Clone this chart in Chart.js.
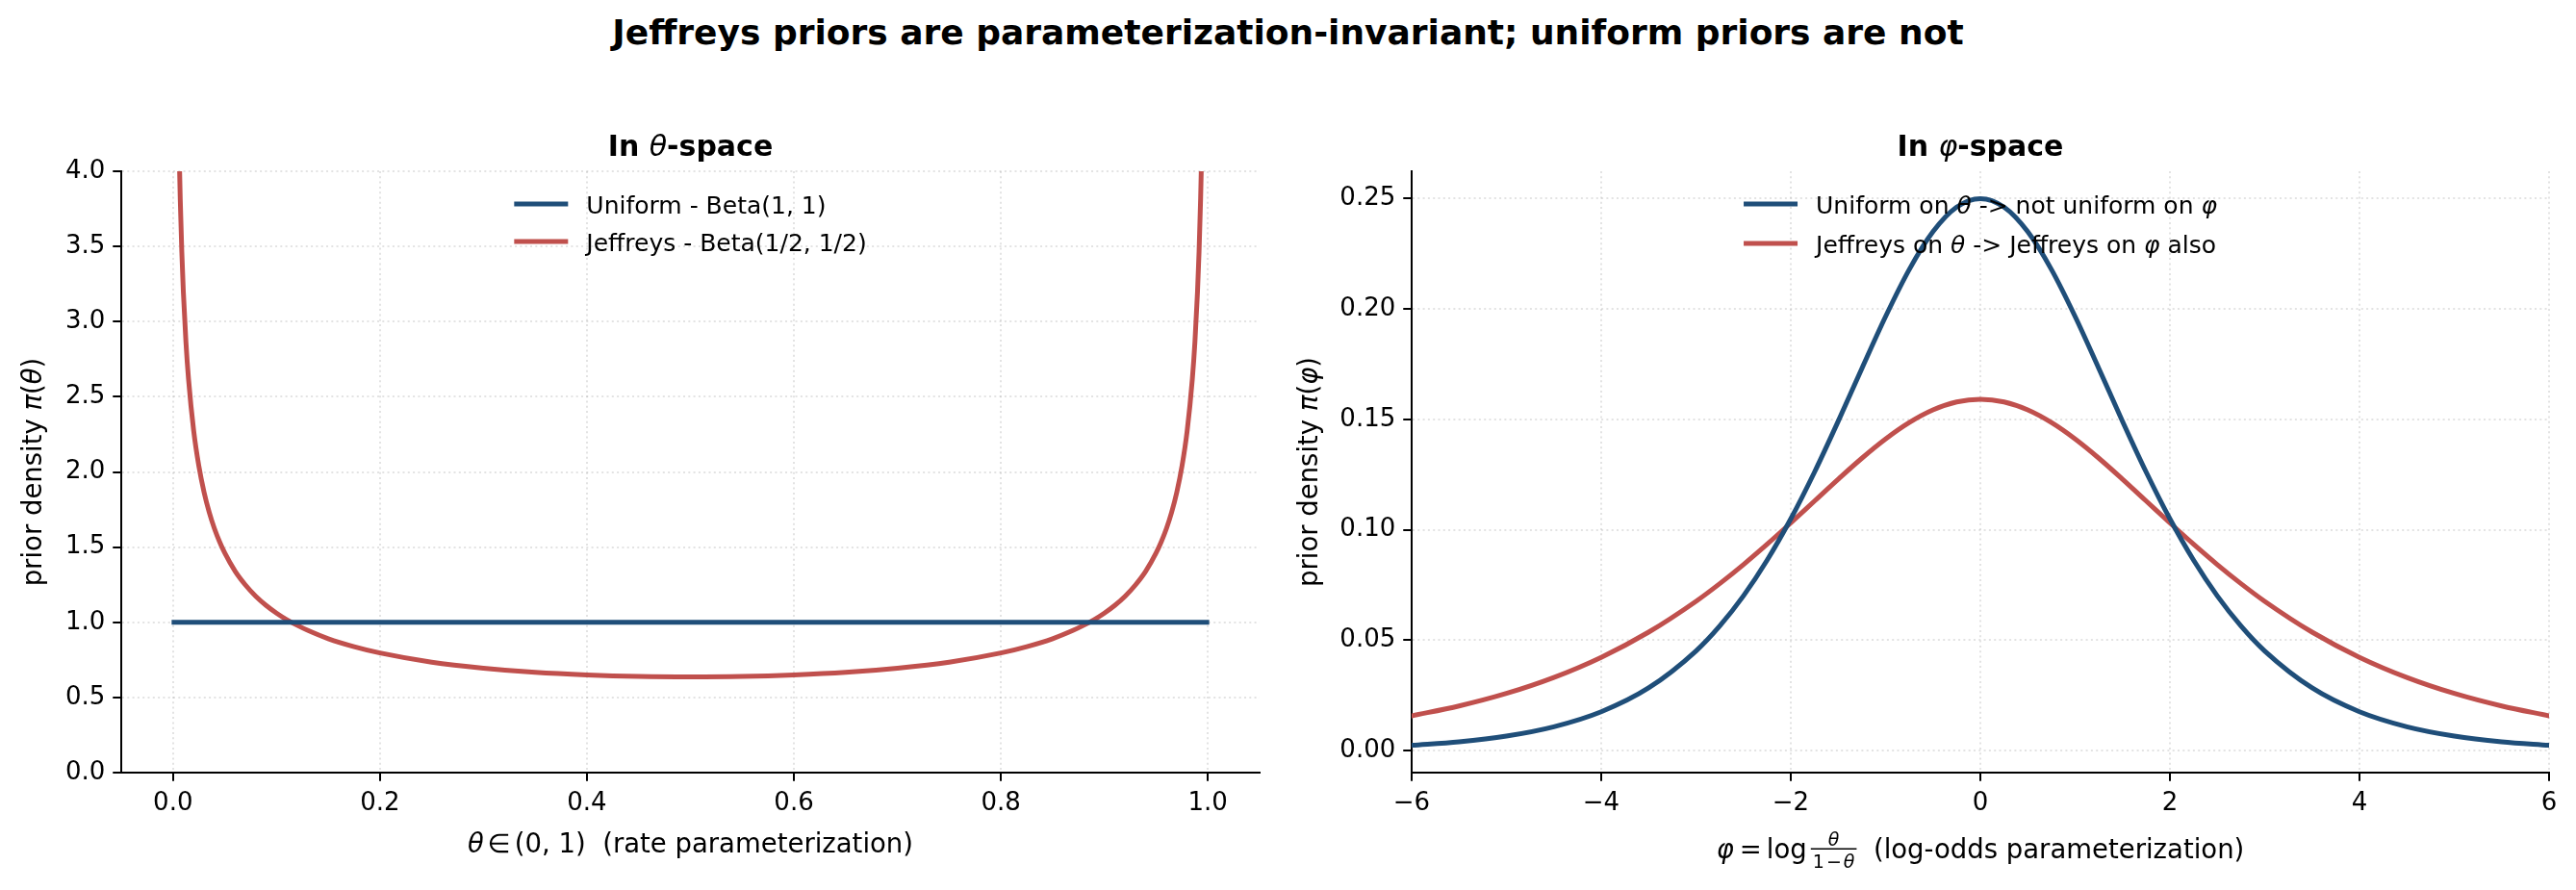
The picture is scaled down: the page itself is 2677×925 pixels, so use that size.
<!DOCTYPE html>
<html>
<head>
<meta charset="utf-8">
<script src="https://cdn.jsdelivr.net/npm/chart.js@4.4.1/dist/chart.umd.min.js"></script>
<style>
  html, body { margin: 0; padding: 0; background: #fff; }
  #page { position: relative; width: 2677px; height: 925px; overflow: hidden; background: #fff; }
  #suptitle { position: absolute; left: 0; top: 14px; width: 2677px; text-align: center;
              font: bold 36px "DejaVu Sans"; line-height: 40px; color: #000; white-space: nowrap; }
  canvas { position: absolute; top: 0; }
</style>
</head>
<body>
<div id="page">
  <div id="suptitle">Jeffreys priors are parameterization-invariant; uniform priors are not</div>
  <canvas id="thetaChart" width="1338" height="925" style="left:0;width:1338px;height:925px"></canvas>
  <canvas id="phiChart" width="1339" height="925" style="left:1338px;width:1339px;height:925px"></canvas>
</div>
<script>
// --- data ---
const thetaGrid = [0.001, 0.003, 0.004, 0.005, 0.006, 0.007, 0.0085, 0.01, 0.0125, 0.015, 0.02, 0.025,
  0.03, 0.035, 0.04, 0.045, 0.05, 0.06, 0.07, 0.08, 0.09, 0.1, 0.11, 0.12, 0.13, 0.15, 0.175, 0.2,
  0.25, 0.3, 0.35, 0.4, 0.45, 0.5, 0.55, 0.6, 0.65, 0.7, 0.75,
  0.8, 0.825, 0.85, 0.87, 0.88, 0.89, 0.9, 0.91, 0.92, 0.93, 0.94, 0.95, 0.955, 0.96, 0.965,
  0.97, 0.975, 0.98, 0.985, 0.9875, 0.99, 0.9915, 0.993, 0.994, 0.995, 0.996, 0.997, 0.999];
const jeffreysTheta = [10.07, 5.82, 5.043, 4.513, 4.122, 3.818, 3.467, 3.199, 2.865, 2.619, 2.274, 2.039,
  1.866, 1.732, 1.624, 1.536, 1.461, 1.340, 1.248, 1.173, 1.112, 1.061, 1.017, 0.980, 0.947, 0.891, 0.838, 0.796,
  0.735, 0.695, 0.667, 0.650, 0.640, 0.637, 0.640, 0.650, 0.667, 0.695, 0.735,
  0.796, 0.838, 0.891, 0.947, 0.980, 1.017, 1.061, 1.112, 1.173, 1.248, 1.340, 1.461, 1.536, 1.624, 1.732,
  1.866, 2.039, 2.274, 2.619, 2.865, 3.199, 3.467, 3.818, 4.122, 4.513, 5.043, 5.82, 10.07];
const uniformThetaGrid = [0.001, 0.999];
const uniformTheta = [1.0, 1.0];

const phiGrid = [-6, -5.5, -5, -4.5, -4, -3.5, -3, -2.75, -2.5, -2.25, -2, -1.75, -1.5, -1.25, -1, -0.75, -0.5, -0.25, 0,
  0.25, 0.5, 0.75, 1, 1.25, 1.5, 1.75, 2, 2.25, 2.5, 2.75, 3, 3.5, 4, 4.5, 5, 5.5, 6];
const uniformPhi = [0.00247, 0.00405, 0.00665, 0.01087, 0.01766, 0.02845, 0.04518, 0.05648, 0.07010, 0.08626,
  0.10499, 0.12613, 0.14915, 0.17311, 0.19661, 0.21790, 0.23500, 0.24613, 0.25,
  0.24613, 0.23500, 0.21790, 0.19661, 0.17311, 0.14915, 0.12613, 0.10499,
  0.08626, 0.07010, 0.05648, 0.04518, 0.02845, 0.01766, 0.01087, 0.00665, 0.00405, 0.00247];
const jeffreysPhi = [0.01581, 0.02027, 0.02595, 0.03318, 0.04230, 0.05369, 0.06766, 0.07565, 0.08428, 0.09349,
  0.10314, 0.11305, 0.12293, 0.13244, 0.14114, 0.14858, 0.15431, 0.15792, 0.15915,
  0.15792, 0.15431, 0.14858, 0.14114, 0.13244, 0.12293, 0.11305, 0.10314,
  0.09349, 0.08428, 0.07565, 0.06766, 0.05369, 0.04230, 0.03318, 0.02595, 0.02027, 0.01581];

const thetaTicks = [0, 0.2, 0.4, 0.6, 0.8, 1.0];
const thetaTickLabels = ['0.0', '0.2', '0.4', '0.6', '0.8', '1.0'];
const densityTicks = [0, 0.5, 1, 1.5, 2, 2.5, 3, 3.5, 4];
const densityTickLabels = ['0.0', '0.5', '1.0', '1.5', '2.0', '2.5', '3.0', '3.5', '4.0'];
const phiTicks = [-6, -4, -2, 0, 2, 4, 6];
const phiTickLabels = ['\u22126', '\u22124', '\u22122', '0', '2', '4', '6'];
const phiDensityTicks = [0, 0.05, 0.10, 0.15, 0.20, 0.25];
const phiDensityTickLabels = ['0.00', '0.05', '0.10', '0.15', '0.20', '0.25'];

const BLUE = '#1f4e79';
const RED = '#c0504d';
const FAMILY = '"DejaVu Sans"';
const GRID = 'rgba(176,176,176,0.35)';

const pts = (xs, ys) => xs.map((x, i) => ({ x: x, y: ys[i] }));

// --- text helpers (mixed upright / italic like mathtext) ---
function fontOf(style, size) {
  return (style.includes('i') ? 'italic ' : '') + (style.includes('b') ? 'bold ' : '') + size + 'px ' + FAMILY;
}
function partWidth(ctx, p, size) {
  if (p.gap !== undefined) return p.gap;
  if (p.frac) {
    return Math.max(richWidth(ctx, p.frac.num, p.frac.size), richWidth(ctx, p.frac.den, p.frac.size)) + 4;
  }
  ctx.font = fontOf(p[1], size);
  return ctx.measureText(p[0]).width;
}
function richWidth(ctx, parts, size) {
  return parts.reduce((w, p) => w + partWidth(ctx, p, size), 0);
}
function drawRich(ctx, parts, x, y, size, align) {
  let cx = align === 'left' ? x : x - richWidth(ctx, parts, size) / 2;
  ctx.textAlign = 'left';
  ctx.textBaseline = 'alphabetic';
  for (const p of parts) {
    const w = partWidth(ctx, p, size);
    if (p.frac) {
      const f = p.frac;
      drawRich(ctx, f.num, cx + w / 2, y - 13, f.size, 'center');
      drawRich(ctx, f.den, cx + w / 2, y + 10, f.size, 'center');
      ctx.fillRect(cx, y - 10.5, w, 1.5);
    } else if (p.gap === undefined) {
      ctx.font = fontOf(p[1], size);
      ctx.fillText(p[0], cx, y);
    }
    cx += w;
  }
}

function decorations(spec) {
  return {
    id: 'decorations',
    afterDraw(chart) {
      const { ctx, chartArea } = chart;
      const mid = (chartArea.left + chartArea.right) / 2;
      ctx.save();
      ctx.fillStyle = '#000';
      // panel title
      drawRich(ctx, spec.title, mid, 162, 30, 'center');
      // legend (upper center, no frame)
      const lw = Math.max(...spec.legend.map(l => richWidth(ctx, l.label, 25)));
      const x0 = mid - (56 + 19 + lw) / 2;
      spec.legend.forEach((l, i) => {
        const y = spec.legendRows[i];
        ctx.strokeStyle = l.color;
        ctx.lineWidth = 4.9;
        ctx.lineCap = 'butt';
        ctx.beginPath();
        ctx.moveTo(x0, y);
        ctx.lineTo(x0 + 56, y);
        ctx.stroke();
        drawRich(ctx, l.label, x0 + 75, y + 9.5, 25, 'left');
      });
      // x label
      drawRich(ctx, spec.xLabel, mid, spec.xLabelY, 27.5, 'center');
      // y label
      ctx.translate(spec.yLabelX, (chartArea.top + chartArea.bottom) / 2);
      ctx.rotate(-Math.PI / 2);
      drawRich(ctx, spec.yLabel, 0, 0, 27.5, 'center');
      ctx.restore();
    }
  };
}

function axis(min, max, ticks, labels, fit) {
  return {
    type: 'linear',
    min: min,
    max: max,
    afterBuildTicks: s => { s.ticks = ticks.map(v => ({ value: v })); },
    afterFit: fit,
    ticks: {
      autoSkip: false, maxRotation: 0, minRotation: 0, color: '#000', padding: 8,
      font: { family: 'DejaVu Sans', size: 26 },
      callback: (v, i) => labels[i]
    },
    grid: { color: GRID, lineWidth: 2, drawTicks: true, tickLength: 8.75, tickWidth: 2, tickColor: '#000' },
    border: { display: true, color: '#000', width: 2, dash: [2, 3.3] }
  };
}

function lineSet(xs, ys, color) {
  return {
    data: pts(xs, ys),
    borderColor: color,
    borderWidth: 5,
    pointRadius: 0,
    fill: false,
    clip: 0,
    cubicInterpolationMode: 'monotone',
    borderCapStyle: 'square',
    borderJoinStyle: 'round'
  };
}

function baseOptions(rightPad) {
  return {
    responsive: false,
    animation: false,
    layout: { padding: { left: 0, right: rightPad, top: 178, bottom: 0 } },
    plugins: { legend: { display: false }, tooltip: { enabled: false } }
  };
}

// --- theta-space panel ---
const thetaOpts = baseOptions(29);
thetaOpts.scales = {
  x: axis(-0.05, 1.05, thetaTicks, thetaTickLabels, s => { s.height = 122; }),
  y: axis(0, 4, densityTicks, densityTickLabels, s => { s.width = 126; })
};
new Chart(document.getElementById('thetaChart'), {
  type: 'line',
  data: {
    datasets: [
      lineSet(uniformThetaGrid, uniformTheta, BLUE),
      lineSet(thetaGrid, jeffreysTheta, RED)
    ]
  },
  options: thetaOpts,
  plugins: [decorations({
    title: [['In ', 'b'], ['\u03b8', 'i'], ['-space', 'b']],
    legend: [
      { color: BLUE, label: [['Uniform - Beta(1, 1)', 'r']] },
      { color: RED, label: [['Jeffreys - Beta(1/2, 1/2)', 'r']] }
    ],
    legendRows: [212, 251],
    xLabel: [['\u03b8', 'i'], { gap: 4 }, ['\u2208', 'r'], { gap: 4 }, ['(0, 1)', 'r'], ['  (rate parameterization)', 'r']],
    xLabelY: 885.5,
    yLabel: [['prior density ', 'r'], ['\u03c0', 'i'], ['(', 'r'], ['\u03b8', 'i'], [')', 'r']],
    yLabelX: 42.7
  })]
});

// --- phi-space panel ---
const phiOpts = baseOptions(28);
phiOpts.scales = {
  x: axis(-6, 6, phiTicks, phiTickLabels, s => { s.height = 122; }),
  y: axis(-0.00991, 0.26238, phiDensityTicks, phiDensityTickLabels, s => { s.width = 129; })
};
new Chart(document.getElementById('phiChart'), {
  type: 'line',
  data: {
    datasets: [
      lineSet(phiGrid, uniformPhi, BLUE),
      lineSet(phiGrid, jeffreysPhi, RED)
    ]
  },
  options: phiOpts,
  plugins: [decorations({
    title: [['In ', 'b'], ['\u03c6', 'i'], ['-space', 'b']],
    legend: [
      { color: BLUE, label: [['Uniform on ', 'r'], ['\u03b8', 'i'], [' -> not uniform on ', 'r'], ['\u03c6', 'i']] },
      { color: RED, label: [['Jeffreys on ', 'r'], ['\u03b8', 'i'], [' -> Jeffreys on ', 'r'], ['\u03c6', 'i'], [' also', 'r']] }
    ],
    legendRows: [212, 253],
    xLabel: [['\u03c6', 'i'], { gap: 6 }, ['=', 'r'], { gap: 5 }, ['log', 'r'], { gap: 4 },
      { frac: { size: 19, num: [['\u03b8', 'i']], den: [['1', 'r'], { gap: 2 }, ['\u2212', 'r'], { gap: 2 }, ['\u03b8', 'i']] } },
      ['  (log-odds parameterization)', 'r']],
    xLabelY: 892,
    yLabel: [['prior density ', 'r'], ['\u03c0', 'i'], ['(', 'r'], ['\u03c6', 'i'], [')', 'r']],
    yLabelX: 31.3
  })]
});
</script>
</body>
</html>
